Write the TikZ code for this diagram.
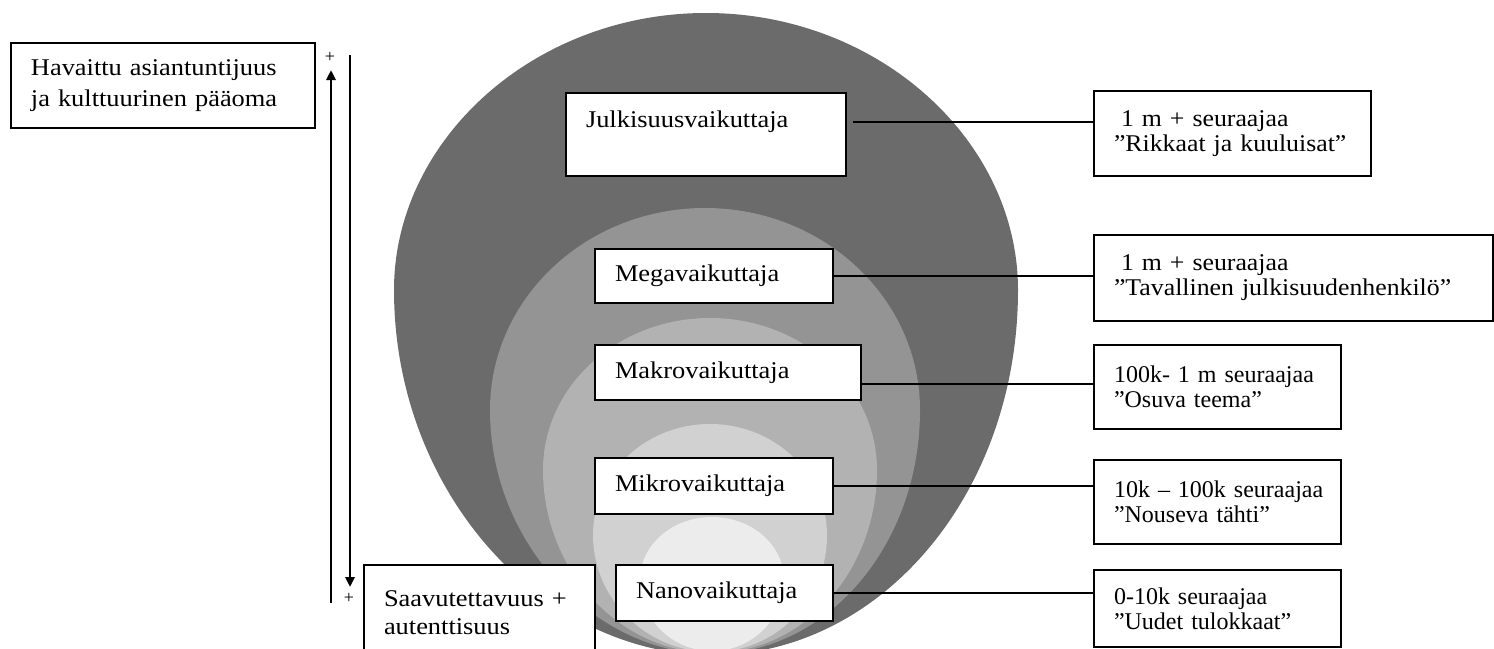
\documentclass[tikz,border=0pt]{standalone}
\usepackage{fontspec}
\setmainfont{Liberation Serif}
\newfontfamily\wideA{Liberation Serif}[FakeStretch=1.1]
\newfontfamily\wideB{Liberation Serif}[FakeStretch=1.075]
\usetikzlibrary{arrows.meta}
\definecolor{gA}{RGB}{107,107,107}
\definecolor{gB}{RGB}{148,148,148}
\definecolor{gC}{RGB}{178,178,178}
\definecolor{gD}{RGB}{209,209,209}
\definecolor{gE}{RGB}{236,236,236}
\begin{document}
\begin{tikzpicture}[x=0.5pt,y=-0.5pt,
  box/.style={draw=black, line width=0.7pt, fill=white, anchor=north west, outer sep=0pt,
    align=left, inner xsep=10pt, inner ysep=0pt, font=\wideA\fontsize{12}{15}\selectfont},
  rbox/.style={box, font=\fontsize{12}{12.5}\selectfont},
  conn/.style={draw=black, line width=0.8pt},
  vline/.style={line width=1.3pt, -{Triangle[length=5pt,width=4.5pt]}},
  plus/.style={font=\fontsize{9}{9}\selectfont, inner sep=0pt}
]
\useasboundingbox (0,0) rectangle (1494,648);
\clip (0,0) rectangle (1494,648);

% nested egg shapes
\fill[gA] (706,13) .. controls (878,13) and (1018,140) .. (1018,290)
  .. controls (1018,493) and (881,655) .. (712,655)
  .. controls (543,655) and (394,493) .. (394,290)
  .. controls (394,140) and (534,13) .. (706,13) -- cycle;
\fill[gB] (705,208) .. controls (823.7,208) and (920,298.5) .. (920,410)
  .. controls (920,545) and (827,654) .. (712,654)
  .. controls (597,654) and (490,545) .. (490,410)
  .. controls (490,298.5) and (586.3,208) .. (705,208) -- cycle;
\fill[gC] (710,318) .. controls (802,318) and (877,386) .. (877,470)
  .. controls (877,571) and (804,653) .. (712,653)
  .. controls (620,653) and (543,571) .. (543,470)
  .. controls (543,386) and (618,318) .. (710,318) -- cycle;
\fill[gD] (710,424) .. controls (774.6,424) and (827,473.7) .. (827,535)
  .. controls (827,600) and (776.6,652) .. (712,652)
  .. controls (647.4,652) and (593,600) .. (593,535)
  .. controls (593,473.7) and (645.4,424) .. (710,424) -- cycle;
\fill[gE] (712,517) .. controls (751.7,517) and (784,545) .. (784,580)
  .. controls (784,619) and (752,651) .. (712,651)
  .. controls (672,651) and (640,619) .. (640,580)
  .. controls (640,545) and (672.3,517) .. (712,517) -- cycle;

% left boxes
\node[box, text width=132pt, minimum height=42.5pt, font=\wideA\fontsize{12}{15.5}\selectfont] (hav) at (11,43)
  {\mbox{Havaittu asiantuntijuus}\\\mbox{ja kulttuurinen pääoma}};
\node[box, text width=95.5pt, minimum height=48pt, font=\wideA\fontsize{12}{14}\selectfont] (saav) at (364,565)
  {\mbox{Saavutettavuus +}\\\mbox{autenttisuus}};

% centre boxes
\node[box, text width=120pt, minimum height=41.5pt] (julk) at (566,93) {\mbox{Julkisuusvaikuttaja}\\\mbox{}};
\node[box, text width=99pt, minimum height=27pt] (mega) at (595,249) {\mbox{Megavaikuttaja}};
\node[box, text width=113pt, minimum height=27.5pt] (makro) at (595,345) {\mbox{Makrovaikuttaja}};
\node[box, text width=99pt, minimum height=28pt] (mikro) at (595,458) {\mbox{Mikrovaikuttaja}};
\node[box, text width=88.5pt, minimum height=28pt] (nano) at (616,565) {\mbox{Nanovaikuttaja}};

% right boxes
\node[rbox, text width=118.5pt, minimum height=42.5pt, font=\wideB\fontsize{12}{12.5}\selectfont] (r1) at (1094,91)
  {\mbox{\hspace*{3.5pt}1 m + seuraajaa}\\\mbox{”Rikkaat ja kuuluisat”}};
\node[rbox, text width=179.5pt, minimum height=43pt, font=\wideB\fontsize{12}{12.5}\selectfont] (r2) at (1094,235)
  {\mbox{\hspace*{3.5pt}1 m + seuraajaa}\\\mbox{”Tavallinen julkisuudenhenkilö”}};
\node[rbox, text width=103.5pt, minimum height=42pt] (r3) at (1094,345)
  {\mbox{100k- 1 m seuraajaa}\\\mbox{”Osuva teema”}};
\node[rbox, text width=103.5pt, minimum height=42pt] (r4) at (1094,460)
  {\mbox{10k – 100k seuraajaa}\\\mbox{”Nouseva tähti”}};
\node[rbox, text width=103.5pt, minimum height=38.5pt] (r5) at (1094,570)
  {\mbox{0-10k seuraajaa}\\\mbox{”Uudet tulokkaat”}};

% connectors
\draw[conn] (julk.north east) ++(7,29) coordinate (j1) -- (j1 -| r1.west);
\draw[conn] (mega.east) -- (mega.east -| r2.west);
\draw[conn] (makro.south east) ++(0,-16) coordinate (m1) -- (m1 -| r3.west);
\draw[conn] (mikro.east) -- (mikro.east -| r4.west);
\draw[conn] (nano.east) -- (nano.east -| r5.west);

% vertical arrows
\coordinate (ub) at (331,603);
\coordinate (ut) at (331,70);
\coordinate (dt) at (350,55);
\coordinate (db) at (350,587);
\draw[vline] (ub) -- (ut);
\draw[vline] (dt) -- (db);
\node[plus] (p1) at (330,57) {+};
\node[plus] (p2) at (349,598) {+};
\end{tikzpicture}
\end{document}
